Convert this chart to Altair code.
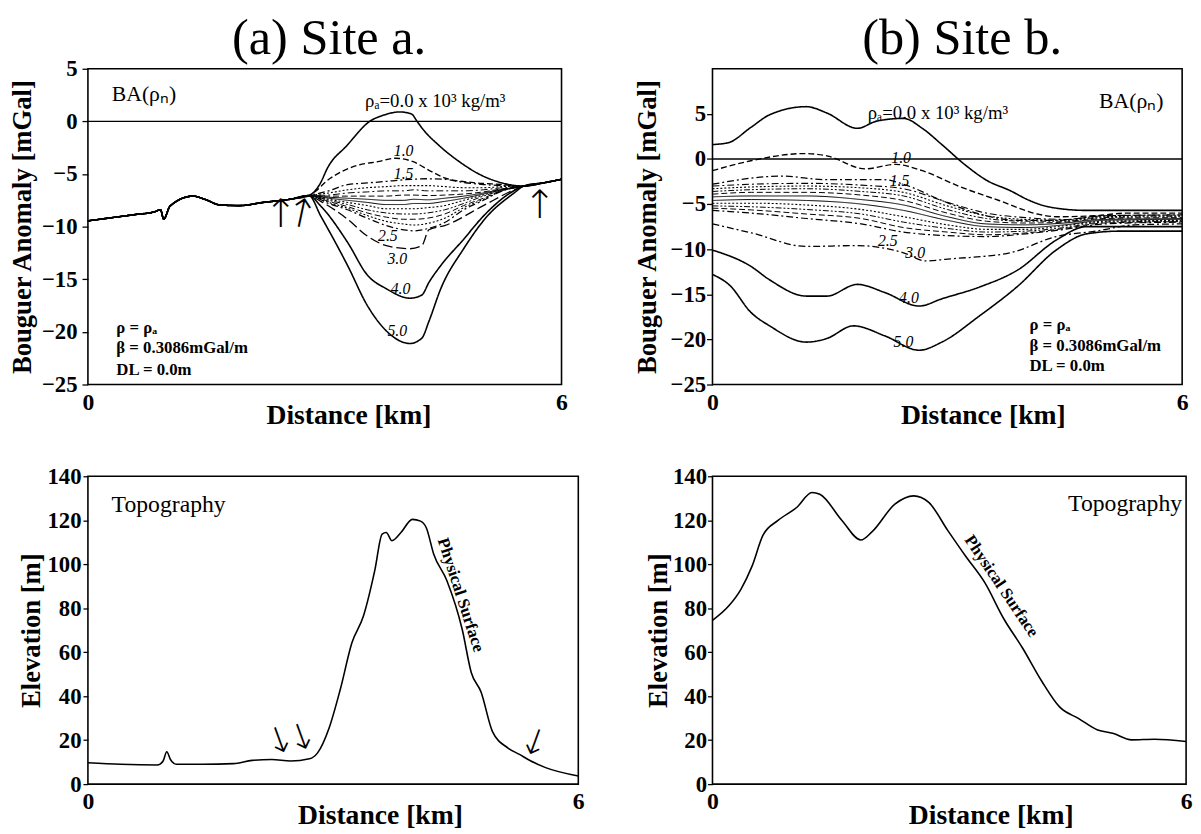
import altair as alt
import pandas as pd

SERIF = "Liberation Serif"
ARROWF = "DejaVu Sans"

# ======================= (a) Site a : Bouguer anomaly =======================
# common part of all curves (outside the hill)
A_BASE_L_D = [0.0, 0.3, 0.6, 0.84, 0.92, 0.96, 1.04, 1.33, 1.48, 1.68, 1.92, 2.22, 2.56, 2.8]
A_BASE_L_V = [-9.45, -9.15, -8.85, -8.6, -8.4, -9.3, -8.05, -7.1, -7.4, -7.95, -8.0, -7.7, -7.4, -7.05]
A_BASE_R_D = [5.52, 5.8, 6.0]
A_BASE_R_V = [-6.15, -5.8, -5.5]

A_R00_D = [2.95, 3.03, 3.28, 3.57, 3.75, 3.95, 4.1, 4.17, 4.25, 4.45, 4.7, 4.98, 5.25]
A_R00_V = [-5.8, -4.5, -2.3, 0.0, 0.6, 0.9, 0.7, 0.0, -0.8, -2.3, -3.8, -5.1, -5.85]
A_R10_D = [3.07, 3.36, 3.69, 3.9, 4.11, 4.36, 4.53, 4.86, 5.25]
A_R10_V = [-5.4, -4.3, -3.8, -3.5, -3.8, -4.8, -5.4, -5.8, -6.0]
A_R30_D = [2.95, 3.29, 3.54, 3.78, 4.08, 4.23, 4.32, 4.52, 5.01, 5.40]
A_R30_V = [-7.6, -9.3, -10.9, -11.8, -12.1, -11.8, -10.3, -9.9, -8.0, -6.5]
A_R40_D = [2.95, 3.29, 3.54, 3.78, 4.08, 4.23, 4.32, 4.47, 4.76, 5.01, 5.35]
A_R40_V = [-8.05, -11.5, -14.6, -15.9, -16.8, -16.5, -15.3, -13.7, -11.2, -9.0, -6.8]
A_R50_D = [2.95, 3.29, 3.54, 3.78, 4.08, 4.23, 4.32, 4.47, 4.76, 5.06, 5.40]
A_R50_V = [-9.0, -13.7, -17.5, -19.9, -21.1, -20.6, -19.0, -15.9, -12.1, -9.0, -6.8]

# dense band of curves between 1.5 and 2.5 (shared distance grid)
A_BAND_D = [3.05, 3.29, 3.54, 3.78, 4.0, 4.13, 4.3, 4.52, 4.76, 5.01, 5.25]
A_R15_V = [-6.6, -6.0, -5.85, -5.7, -5.55, -5.5, -5.45, -5.5, -5.8, -6.0, -6.1]
A_R16_V = [-6.8, -6.5, -6.3, -6.2, -6.1, -6.1, -6.1, -6.2, -6.3, -6.3, -6.2]
A_R17_V = [-7.0, -6.8, -6.7, -6.6, -6.6, -6.5, -6.6, -6.6, -6.6, -6.5, -6.3]
A_R18_V = [-7.1, -7.1, -7.1, -7.1, -7.0, -7.0, -7.05, -7.0, -6.9, -6.7, -6.4]
A_R19_V = [-7.2, -7.3, -7.4, -7.5, -7.5, -7.4, -7.45, -7.3, -7.1, -6.8, -6.45]
A_R20_V = [-7.3, -7.5, -7.7, -7.9, -7.9, -7.8, -7.8, -7.6, -7.3, -6.9, -6.5]
A_R21_V = [-7.4, -7.7, -8.0, -8.3, -8.3, -8.3, -8.2, -8.0, -7.5, -7.0, -6.5]
A_R22_V = [-7.5, -7.9, -8.4, -8.7, -8.8, -8.8, -8.7, -8.4, -7.8, -7.1, -6.55]
A_R23_V = [-7.6, -8.1, -8.7, -9.1, -9.3, -9.3, -9.2, -8.8, -8.0, -7.3, -6.55]
A_R24_V = [-7.7, -8.25, -8.95, -9.5, -9.75, -9.85, -9.7, -9.2, -8.2, -7.4, -6.6]
A_R25_V = [-7.8, -8.4, -9.2, -9.9, -10.3, -10.4, -10.2, -9.6, -8.4, -7.5, -6.6]

# ======================= (b) Site b : Bouguer anomaly =======================
B_R00_D = [0.0, 0.2, 0.49, 0.73, 1.2, 1.46, 1.85, 2.1, 2.44, 2.68, 2.93, 3.22, 3.51, 3.8, 4.05, 4.29, 4.78, 5.2, 6.0]
B_R00_V = [1.6, 1.8, 3.5, 4.9, 5.8, 5.1, 3.4, 4.2, 4.5, 3.4, 1.6, -0.6, -2.4, -3.5, -4.6, -5.3, -5.7, -5.7, -5.7]
B_R10_D = [0.0, 0.49, 1.17, 1.46, 1.95, 2.34, 2.68, 3.17, 3.66, 4.15, 4.39, 4.88, 5.3, 6.0]
B_R10_V = [-1.3, -0.2, 0.6, 0.35, -1.1, -0.6, -1.3, -3.1, -4.6, -6.1, -6.4, -6.3, -6.0, -6.0]
B_R15_D = [0.0, 0.88, 1.46, 2.2, 2.44, 2.93, 3.41, 3.9, 4.4, 5.0, 6.0]
B_R15_V = [-2.8, -1.9, -2.3, -2.3, -2.8, -4.6, -6.1, -6.8, -6.8, -6.3, -6.2]
B_R30_D = [0.0, 0.5, 1.2, 1.85, 2.44, 2.73, 3.0, 3.8, 4.39, 4.9, 5.4, 6.0]
B_R30_V = [-7.2, -8.2, -9.7, -9.6, -10.4, -11.3, -11.1, -10.4, -8.6, -8.0, -7.3, -7.2]
B_R40_D = [0.0, 0.49, 0.73, 1.2, 1.46, 1.85, 2.2, 2.64, 2.93, 3.41, 3.9, 4.39, 4.78, 5.2, 6.0]
B_R40_V = [-10.1, -11.9, -13.4, -15.2, -15.2, -13.9, -14.8, -16.3, -15.5, -14.2, -12.3, -9.0, -7.5, -7.5, -7.5]
B_R50_D = [0.0, 0.22, 0.49, 0.73, 1.2, 1.46, 1.8, 2.2, 2.64, 2.93, 3.41, 3.9, 4.39, 4.78, 5.2, 6.0]
B_R50_V = [-12.8, -14.0, -17.0, -18.5, -20.3, -19.9, -18.5, -19.6, -21.2, -20.3, -17.4, -14.1, -10.1, -8.3, -8.0, -8.0]

B_BAND_D = [0.0, 0.5, 1.2, 1.9, 2.44, 3.0, 3.5, 4.0, 4.5, 5.0, 6.0]
B_R16_V = [-3.0, -2.8, -2.7, -2.9, -3.3, -4.8, -6.0, -6.5, -6.7, -6.3, -6.2]
B_R17_V = [-3.3, -3.1, -3.0, -3.2, -3.7, -5.2, -6.3, -6.7, -6.8, -6.4, -6.3]
B_R18_V = [-3.6, -3.4, -3.3, -3.6, -4.1, -5.6, -6.6, -6.9, -6.9, -6.5, -6.4]
B_R19_V = [-3.9, -3.7, -3.7, -4.0, -4.6, -6.0, -6.9, -7.1, -7.0, -6.6, -6.5]
B_R20_V = [-4.2, -4.1, -4.1, -4.5, -5.1, -6.4, -7.2, -7.3, -7.1, -6.7, -6.6]
B_R21_V = [-4.6, -4.5, -4.6, -5.0, -5.7, -6.8, -7.5, -7.6, -7.3, -6.8, -6.7]
B_R22_V = [-4.9, -4.9, -5.1, -5.6, -6.4, -7.3, -7.8, -7.8, -7.4, -6.9, -6.8]
B_R23_V = [-5.2, -5.3, -5.6, -6.1, -7.0, -7.7, -8.1, -8.0, -7.6, -7.0, -6.9]
B_R24_V = [-5.45, -5.65, -6.1, -6.6, -7.6, -8.1, -8.4, -8.2, -7.7, -7.1, -6.95]
B_R25_V = [-5.7, -6.0, -6.6, -7.2, -8.1, -8.5, -8.6, -8.3, -7.8, -7.2, -7.0]

# ======================= Topography =======================
TOPO_A_D = [0.0, 0.4, 0.85, 0.92, 0.965, 1.01, 1.08, 1.4, 1.78, 2.01, 2.25, 2.48, 2.71, 2.81, 2.95,
            3.09, 3.23, 3.37, 3.51, 3.6, 3.65, 3.72, 3.83, 3.97, 4.07, 4.14, 4.23, 4.39, 4.58,
            4.69, 4.81, 4.95, 5.14, 5.28, 5.42, 5.6, 6.0]
TOPO_A_E = [9.7, 9.0, 8.7, 10.5, 14.7, 11.2, 9.0, 9.0, 9.3, 10.8, 11.2, 10.5, 11.5, 14.2, 25.4,
            43.4, 64.3, 76.3, 97.2, 113.7, 114.4, 110.7, 114.4, 120.4, 119.6, 116.6, 104.7, 92.7, 70.3,
            50.8, 41.9, 23.9, 16.4, 13.5, 10.5, 7.5, 3.7]
TOPO_B_D = [0.0, 0.21, 0.36, 0.5, 0.64, 0.83, 1.07, 1.26, 1.36, 1.64, 1.88, 2.02, 2.31, 2.55, 2.74,
            2.98, 3.21, 3.45, 3.69, 3.93, 4.17, 4.4, 4.64, 4.88, 5.07, 5.31, 5.6, 6.0]
TOPO_B_E = [74.5, 81.2, 88.6, 99.0, 113.2, 119.9, 125.9, 132.6, 131.8, 119.9, 111.0, 114.7, 127.3, 131.1, 128.1,
            115.4, 103.5, 91.6, 75.2, 61.8, 46.9, 35.0, 29.8, 24.6, 23.1, 20.1, 20.4, 19.4]

# ======================= annotations =======================
DENS_LABELS = ["1.0", "1.5", "2.5", "3.0", "4.0", "5.0"]
A_LAB_X = [4.0, 4.0, 3.8, 3.92, 3.96, 3.92]
A_LAB_Y = [-2.8, -5.0, -10.9, -13.1, -15.9, -19.9]
B_LAB_X = [2.41, 2.39, 2.24, 2.59, 2.51, 2.44]
B_LAB_Y = [0.15, -2.4, -9.1, -10.45, -15.4, -20.3]
PARAM_TEXT = ["ρ = ρₐ", "β = 0.3086mGal/m", "DL = 0.0m"]
A_PARAM_X = [0.36, 0.36, 0.36]
A_PARAM_Y = [-19.6, -21.5, -23.6]
B_PARAM_X = [4.05, 4.05, 4.05]
B_PARAM_Y = [-18.4, -20.7, -23.0]
BA_TEXT = "BA(ρₙ)"
RHO_TEXT = "ρₐ=0.0 x 10³ kg/m³"

STYLE_DOMAIN = ["solid", "dash", "dashdot", "dot", "dashdotdot", "longdash"]
STYLE_RANGE = [[1, 0], [6, 3], [7, 3, 2, 3], [2, 2], [6, 2, 2, 2, 2, 2], [10, 4]]


def rows(name, style, w, ds, vs):
    return [{"curve": name, "style": style, "w": w, "d": d, "v": v, "i": k}
            for k, (d, v) in enumerate(zip(ds, vs))]


def site_a_full(ds, vs):
    return A_BASE_L_D + ds + A_BASE_R_D, A_BASE_L_V + vs + A_BASE_R_V


a_specs = [
    ("0.0", "solid", 1.6, A_R00_D, A_R00_V),
    ("1.0", "dash", 1.4, A_R10_D, A_R10_V),
    ("1.5", "dashdot", 1.3, A_BAND_D, A_R15_V),
    ("1.6", "dot", 1.1, A_BAND_D, A_R16_V),
    ("1.7", "dashdot", 1.0, A_BAND_D, A_R17_V),
    ("1.8", "dash", 1.0, A_BAND_D, A_R18_V),
    ("1.9", "solid", 1.0, A_BAND_D, A_R19_V),
    ("2.0", "solid", 1.0, A_BAND_D, A_R20_V),
    ("2.1", "dot", 1.1, A_BAND_D, A_R21_V),
    ("2.2", "dashdotdot", 1.0, A_BAND_D, A_R22_V),
    ("2.3", "dash", 1.0, A_BAND_D, A_R23_V),
    ("2.4", "dot", 1.1, A_BAND_D, A_R24_V),
    ("2.5", "dashdot", 1.2, A_BAND_D, A_R25_V),
    ("3.0", "longdash", 1.3, A_R30_D, A_R30_V),
    ("4.0", "solid", 1.6, A_R40_D, A_R40_V),
    ("5.0", "solid", 1.6, A_R50_D, A_R50_V),
]
a_rows = []
for name, st, w, ds, vs in a_specs:
    fd, fv = site_a_full(ds, vs)
    a_rows += rows(name, st, w, fd, fv)
a_df = pd.DataFrame(a_rows)

b_specs = [
    ("0.0", "solid", 1.6, B_R00_D, B_R00_V),
    ("1.0", "dash", 1.4, B_R10_D, B_R10_V),
    ("1.5", "dashdot", 1.3, B_R15_D, B_R15_V),
    ("1.6", "dashdot", 1.1, B_BAND_D, B_R16_V),
    ("1.7", "dot", 1.1, B_BAND_D, B_R17_V),
    ("1.8", "dashdotdot", 1.0, B_BAND_D, B_R18_V),
    ("1.9", "dash", 1.0, B_BAND_D, B_R19_V),
    ("2.0", "solid", 1.0, B_BAND_D, B_R20_V),
    ("2.1", "solid", 1.0, B_BAND_D, B_R21_V),
    ("2.2", "dot", 1.1, B_BAND_D, B_R22_V),
    ("2.3", "dashdotdot", 1.0, B_BAND_D, B_R23_V),
    ("2.4", "dash", 1.0, B_BAND_D, B_R24_V),
    ("2.5", "dashdot", 1.2, B_BAND_D, B_R25_V),
    ("3.0", "dashdot", 1.3, B_R30_D, B_R30_V),
    ("4.0", "solid", 1.6, B_R40_D, B_R40_V),
    ("5.0", "solid", 1.6, B_R50_D, B_R50_V),
]
b_rows = []
for name, st, w, ds, vs in b_specs:
    b_rows += rows(name, st, w, ds, vs)
b_df = pd.DataFrame(b_rows)

topo_a_df = pd.DataFrame({"d": TOPO_A_D, "v": TOPO_A_E})
topo_b_df = pd.DataFrame({"d": TOPO_B_D, "v": TOPO_B_E})


def x_axis(title_x):
    return alt.Axis(values=[0, 6], format="d", title="Distance [km]", ticks=False,
                    labelFont=SERIF, titleFont=SERIF, labelFontWeight="bold", titleFontWeight="bold",
                    labelFontSize=24, titleFontSize=28, labelPadding=6, titlePadding=-12,
                    titleX=title_x, labelFlush=False, labelColor="black", titleColor="black")


def y_axis(title, values, tick, lpad, tpad):
    return alt.Axis(values=values, title=title, tickSize=tick, labelPadding=lpad,
                    labelFont=SERIF, titleFont=SERIF, labelFontWeight="bold", titleFontWeight="bold",
                    titlePadding=tpad, labelFontSize=23, titleFontSize=27,
                    labelColor="black", titleColor="black")


def text_layer(xs, ys, texts, size, angle=0, font=SERIF, weight="normal",
               style="normal", align="center"):
    df = pd.DataFrame({"d": xs, "v": ys, "t": texts})
    return alt.Chart(df).mark_text(
        font=font, fontSize=size, fontWeight=weight, fontStyle=style,
        align=align, baseline="middle", angle=angle, color="black"
    ).encode(x="d:Q", y="v:Q", text="t:N")


BA_TICKS = [-25, -20, -15, -10, -5, 0, 5]
EL_TICKS = [0, 20, 40, 60, 80, 100, 120, 140]


def ba_panel(df, ydom, ytick, lpad, tpad, title_x):
    return alt.Chart(df).mark_line(color="black", interpolate="monotone", strokeCap="butt").encode(
        x=alt.X("d:Q", scale=alt.Scale(domain=[0, 6], nice=False, zero=False), axis=x_axis(title_x)),
        y=alt.Y("v:Q", scale=alt.Scale(domain=ydom, nice=False, zero=False),
                axis=y_axis("Bouguer Anomaly [mGal]", BA_TICKS, ytick, lpad, tpad)),
        detail="curve:N",
        strokeDash=alt.StrokeDash("style:N", scale=alt.Scale(domain=STYLE_DOMAIN, range=STYLE_RANGE), legend=None),
        strokeWidth=alt.StrokeWidth("w:Q", scale=None),
        order="i:Q",
    )


def zero_rule():
    return alt.Chart(pd.DataFrame({"v": [0]})).mark_rule(color="black", strokeWidth=1.4).encode(y="v:Q")


# ---------- panel a top ----------
a_top = alt.layer(
    ba_panel(a_df, [-25, 5], 6, 5, 5, 264),
    zero_rule(),
    text_layer([0.71], [2.6], [BA_TEXT], 22),
    text_layer([4.4], [1.9], [RHO_TEXT], 19),
    text_layer(A_LAB_X, A_LAB_Y, DENS_LABELS, 16, style="italic"),
    text_layer(A_PARAM_X, A_PARAM_Y, PARAM_TEXT, 17, weight="bold", align="left"),
    text_layer([2.44, 5.72], [-8.9, -8.1], ["↑", "↑"], 40, font=ARROWF, weight=200),
    text_layer([2.70], [-8.9], ["↑"], 40, angle=12, font=ARROWF, weight=200),
).properties(width=480, height=320)

# ---------- panel a bottom ----------
a_bot = alt.layer(
    alt.Chart(topo_a_df).mark_line(color="black", strokeWidth=1.6, interpolate="monotone").encode(
        x=alt.X("d:Q", scale=alt.Scale(domain=[0, 6], nice=False, zero=False), axis=x_axis(296)),
        y=alt.Y("v:Q", scale=alt.Scale(domain=[0, 140], nice=False),
                axis=y_axis("Elevation [m]", EL_TICKS, 5, 2, 2)),
    ),
    text_layer([0.29], [126.8], ["Topography"], 24, align="left"),
    text_layer([4.56], [86], ["Physical Surface"], 17, angle=72, weight="bold"),
    text_layer([2.35, 2.62], [19.4, 20.9], ["↓", "↓"], 36, angle=340, font=ARROWF, weight=200),
    text_layer([5.46], [18.4], ["↓"], 36, angle=20, font=ARROWF, weight=200),
).properties(width=497, height=312)

# ---------- panel b top ----------
b_top = alt.layer(
    ba_panel(b_df, [-25, 10], 6, 1, 9, 274),
    zero_rule(),
    text_layer([5.35], [6.4], [BA_TEXT], 22),
    text_layer([2.88], [5.1], [RHO_TEXT], 19),
    text_layer(B_LAB_X, B_LAB_Y, DENS_LABELS, 16, style="italic"),
    text_layer(B_PARAM_X, B_PARAM_Y, PARAM_TEXT, 17, weight="bold", align="left"),
).properties(width=476, height=320)

# ---------- panel b bottom ----------
b_bot = alt.layer(
    alt.Chart(topo_b_df).mark_line(color="black", strokeWidth=1.6, interpolate="monotone").encode(
        x=alt.X("d:Q", scale=alt.Scale(domain=[0, 6], nice=False, zero=False), axis=x_axis(282)),
        y=alt.Y("v:Q", scale=alt.Scale(domain=[0, 140], nice=False),
                axis=y_axis("Elevation [m]", EL_TICKS, 5, 1, 0)),
    ),
    text_layer([5.95], [127.5], ["Topography"], 24, align="right"),
    text_layer([3.66], [90], ["Physical Surface"], 17, angle=56, weight="bold"),
).properties(width=480, height=312)

col_a = alt.vconcat(a_top, a_bot, spacing=34, title=alt.TitleParams(
    "(a) Site a.", fontSize=51, font=SERIF, fontWeight="normal", anchor="middle", offset=-8, dx=33, color="black"))
col_b = alt.vconcat(b_top, b_bot, spacing=34, title=alt.TitleParams(
    "(b) Site b.", fontSize=51, font=SERIF, fontWeight="normal", anchor="middle", offset=3, dx=50, color="black"))

chart = alt.hconcat(col_a, col_b, spacing=48).properties(
    padding={"left": 0, "top": 0, "right": 0, "bottom": 0},
    background="white",
).configure(
    style={
        "guide-label": {"font": SERIF, "fontWeight": "bold"},
        "guide-title": {"font": SERIF, "fontWeight": "bold"},
    }
).configure_view(stroke="black", strokeWidth=1.6).configure_axis(
    labelFont=SERIF, titleFont=SERIF, labelFontWeight="bold", titleFontWeight="bold",
    labelColor="black", titleColor="black", grid=False, domain=False,
    tickColor="black", tickWidth=1.3,
)

chart.save("out.html", embed_options={"renderer": "svg", "actions": False})
